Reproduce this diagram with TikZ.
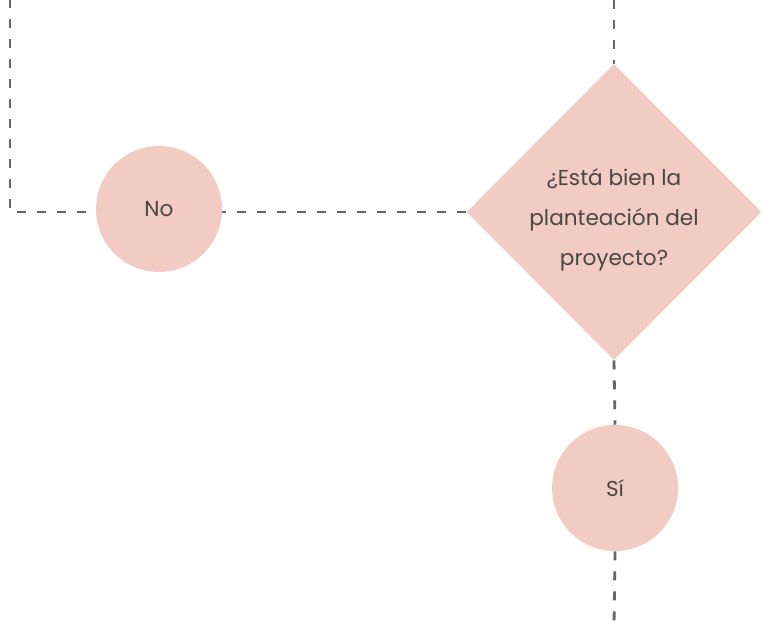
\documentclass[tikz,border=0pt]{standalone}
\usepackage{fontspec}
\setmainfont{Poppins}
\usetikzlibrary{shapes.geometric,backgrounds}
\definecolor{salmon}{HTML}{F2CBC2}
\definecolor{dashgray}{HTML}{66636B}
\definecolor{textgray}{HTML}{4A4747}
\begin{document}
\begin{tikzpicture}[x=0.75pt,y=-0.75pt,
    answer/.style={circle,fill=salmon,minimum size=94.5pt,inner sep=0pt},
    question/.style={diamond,fill=salmon,minimum width=221pt,minimum height=222pt,inner sep=0pt,align=center},
    flow/.style={draw=dashgray,line width=2.1pt,dash pattern=on 6.75pt off 8.25pt}]
\tikzset{every node/.style={text=textgray,font=\fontsize{16.2}{30}\selectfont}}
%\tikzset{every node/.style={font=\sffamily}}
\useasboundingbox (0,0) rectangle (762,625);
\node[question] (check) at (614,212) {\rule{0pt}{24pt}¿Está bien la\\planteación del\\proyecto?};
\node[answer] (no) at (159,209) {No};
\node[answer] (si) at (615,488) {Sí};
\coordinate (in) at (614,0);
\coordinate (bend) at (10,212);
\coordinate (back) at (10,0);
\coordinate (out) at (614,625);
\begin{pgfonlayer}{background}
    \draw[flow] (in) -- (check.north);
    \draw[flow] (check.west) -- (bend) -- (back);
    \draw[flow] (check.south) -- (si.north);
    \draw[flow] (si.south) -- (out);
\end{pgfonlayer}
\end{tikzpicture}
\end{document}
